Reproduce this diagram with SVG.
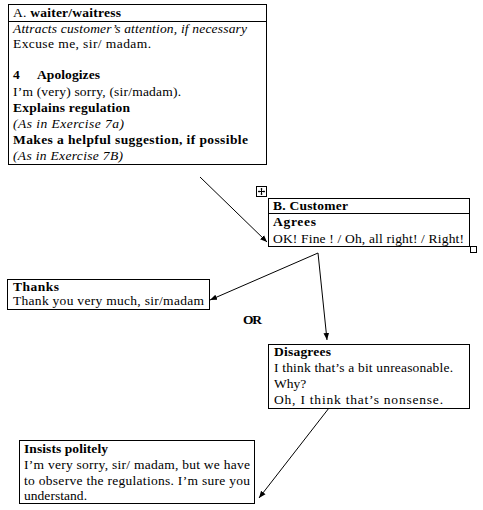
<svg xmlns="http://www.w3.org/2000/svg" width="483" height="510" viewBox="0 0 483 510">
<style>
.box{fill:#fff;stroke:#000;stroke-width:1}
text{font-family:"Liberation Serif","Times New Roman",serif;font-size:13.5px;fill:#000}
.b{font-weight:bold}
.i{font-style:italic}
.ln{stroke:#000;stroke-width:1;fill:none}
</style>
<defs>
<marker id="ah" viewBox="0 0 10 10" refX="10" refY="5" markerWidth="7" markerHeight="7" markerUnits="userSpaceOnUse" orient="auto">
<path d="M0,1 L10,5 L0,9 Z" fill="#000"/>
</marker>
</defs>
<rect width="483" height="510" fill="#fff"/>
<g id="connectors">
<line class="ln" x1="200" y1="177" x2="267" y2="242" marker-end="url(#ah)"/>
<line class="ln" x1="318" y1="253" x2="210" y2="300" marker-end="url(#ah)"/>
<line class="ln" x1="318" y1="253" x2="327" y2="340" marker-end="url(#ah)"/>
<line class="ln" x1="329" y1="408" x2="259" y2="498" marker-end="url(#ah)"/>
</g>
<g id="nodeA">
<rect class="box" x="8.5" y="4.5" width="258" height="160"/>
<line class="ln" x1="8.5" y1="21.5" x2="266.5" y2="21.5"/>
<text x="13" y="17" textLength="108" lengthAdjust="spacing">A. <tspan class="b">waiter/waitress</tspan></text>
<text x="13" y="33" class="i" textLength="234" lengthAdjust="spacing">Attracts customer’s attention, if necessary</text>
<text x="13" y="48" textLength="138" lengthAdjust="spacing">Excuse me, sir/ madam.</text>
<text x="13" y="79" class="b">4</text>
<text x="37" y="79" class="b" textLength="63" lengthAdjust="spacing">Apologizes</text>
<text x="13" y="96" textLength="168" lengthAdjust="spacing">I’m (very) sorry, (sir/madam).</text>
<text x="13" y="112" class="b" textLength="117" lengthAdjust="spacing">Explains regulation</text>
<text x="13" y="128" class="i" textLength="111" lengthAdjust="spacing">(As in Exercise 7a)</text>
<text x="13" y="144" class="b" textLength="235" lengthAdjust="spacing">Makes a helpful suggestion, if possible</text>
<text x="13" y="160" class="i" textLength="110" lengthAdjust="spacing">(As in Exercise 7B)</text>
</g>
<g id="nodeB">
<rect class="box" x="256.5" y="186.5" width="10" height="10"/>
<g class="ln" stroke-width="0.8">
<line x1="261.5" y1="188.5" x2="261.5" y2="194.5"/>
<line x1="258.5" y1="191.5" x2="264.5" y2="191.5"/>
</g>
<g fill="#000">
<path d="M261.5,187.8 L260.3,189.3 L262.7,189.3 Z"/>
<path d="M261.5,195.2 L260.3,193.7 L262.7,193.7 Z"/>
<path d="M257.8,191.5 L259.3,190.3 L259.3,192.7 Z"/>
<path d="M265.2,191.5 L263.7,190.3 L263.7,192.7 Z"/>
</g>
<rect class="box" x="268.5" y="198.5" width="201" height="48"/>
<line class="ln" x1="268.5" y1="213.5" x2="469.5" y2="213.5"/>
<rect class="box" x="470.5" y="246.5" width="6" height="6"/>
<text x="273" y="210" class="b" textLength="75" lengthAdjust="spacing">B. Customer</text>
<text x="273" y="226" class="b" textLength="43" lengthAdjust="spacing">Agrees</text>
<text x="273" y="243" textLength="191" lengthAdjust="spacing">OK! Fine ! / Oh, all right! / Right!</text>
</g>
<g id="nodeThanks">
<rect class="box" x="7.5" y="279.5" width="202" height="30"/>
<text x="13" y="291" class="b" textLength="46" lengthAdjust="spacing">Thanks</text>
<text x="13" y="305" textLength="191" lengthAdjust="spacing">Thank you very much, sir/madam</text>
</g>
<g id="or">
<text x="243" y="324" class="b" textLength="19" lengthAdjust="spacing">OR</text>
</g>
<g id="nodeDisagrees">
<rect class="box" x="268.5" y="344.5" width="201" height="64"/>
<text x="274" y="356" class="b" textLength="57" lengthAdjust="spacing">Disagrees</text>
<text x="274" y="372" textLength="179" lengthAdjust="spacing">I think that’s a bit unreasonable.</text>
<text x="274" y="388">Why?</text>
<text x="274" y="404" textLength="169" lengthAdjust="spacing">Oh, I think that’s nonsense.</text>
</g>
<g id="nodeInsists">
<rect class="box" x="19.5" y="440.5" width="235" height="63"/>
<text x="24" y="453" class="b" textLength="84" lengthAdjust="spacing">Insists politely</text>
<text x="24" y="469" textLength="226" lengthAdjust="spacing">I’m very sorry, sir/ madam, but we have</text>
<text x="24" y="485" textLength="226" lengthAdjust="spacing">to observe the regulations. I’m sure you</text>
<text x="24" y="500" textLength="63" lengthAdjust="spacing">understand.</text>
</g>
</svg>
